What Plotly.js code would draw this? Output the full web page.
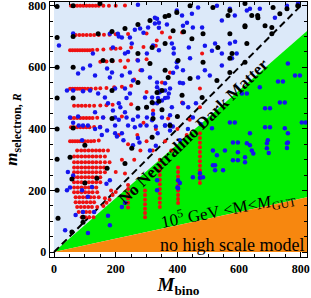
<!DOCTYPE html>
<html><head><meta charset="utf-8">
<script src="https://cdn.plot.ly/plotly-3.0.1.min.js"></script>
<style>html,body{margin:0;padding:0;background:#fff}#c{width:311px;height:298px}</style>
</head><body><div id="c"></div>
<script>
// region boundaries
const regionX = [0, 820];
const dmSlope = 0.875;      // upper edge of green band
const highSlope = 0.217;    // upper edge of orange band
const diagX = [0, 800];
const diagY = [0, 800];

// red points
const redX = [55,65,75,85,95,105,115,125,135,145,160,178,200,230,
 70,82,94,106,118,130,145,162,180,200,240,300,
 52,60,68,76,84,92,100,108,116,125,140,160,185,215,250,290,330,
 150,170,190,215,240,270,300,
 52,60,68,76,84,92,100,110,120,135,150,170,195,220,250,
 65,78,90,102,115,130,150,170,190,
 55,65,75,85,95,105,115,125,140,160,
 55,65,75,85,95,105,115,130,150,
 52,60,68,76,84,92,100,110,120,130,145,
 75,88,100,112,124,136,148,160,175,
 65,77,89,101,113,125,137,150,165,
 65,77,89,101,113,125,137,150,165,180,
 65,77,89,101,113,125,137,150,162,
 65,77,89,101,113,125,137,150,165,
 65,77,89,101,113,125,137,150,
 65,77,89,101,113,125,137,150,
 65,77,89,101,113,125,137,
 65,77,89,101,113,125,140,
 70,82,94,106,118,130,145,
 70,82,94,106,118,130,
 75,87,99,111,123,140,
 80,92,104,116,130,
 90,102,114,128,
 160,170,180,190,200,165,185,
 240,240,240,240,240,240,
 295,295,295,295,295,295,295,
 343,343,343,343,343,343,343,343,343,343,343,
 402,402,402,402,402,402,402,402,402,
 473,473,473,473,473,473,473,473,473,473,473,473,
 350,333,376,415,480,376,350,415,473,473,370,321,260,230,200,280,300,250,220,290,330,270,240,210,300,260,220,200,230,280,320,360,400,440,430,380];
const redY = [800,800,800,800,800,800,800,800,800,800,800,800,800,801,
 705,705,705,705,705,705,705,706,706,707,708,710,
 655,655,655,655,655,655,655,655,655,656,657,658,660,662,664,666,670,
 618,619,620,621,622,624,626,
 530,530,530,530,530,530,530,530,530,531,532,533,535,537,540,
 475,475,475,475,475,475,476,477,478,
 435,435,435,435,435,435,435,435,436,437,
 405,405,405,405,405,405,405,406,407,
 360,360,360,360,360,360,360,360,360,361,362,
 330,330,330,330,330,330,330,330,330,
 310,310,310,310,310,310,310,310,310,
 292,292,292,292,292,292,292,292,292,292,
 275,275,275,275,275,275,275,275,275,
 259,259,259,259,259,259,259,259,259,
 243,243,243,243,243,243,243,243,
 227,227,227,227,227,227,227,227,
 210,210,210,210,210,210,210,
 194,194,194,194,194,194,194,
 178,178,178,178,178,178,178,
 162,162,162,162,162,162,
 146,146,146,146,146,146,
 130,130,130,130,130,
 113,113,113,113,
 150,160,170,185,195,175,200,
 145,160,175,190,205,218,
 113,127,141,155,170,185,200,
 146,160,175,190,205,220,235,250,265,280,300,
 159,172,185,200,215,230,245,260,275,
 224,238,252,266,280,295,310,325,340,355,370,386,
 713,687,697,713,645,583,551,486,531,470,434,460,560,600,660,590,520,480,440,420,400,380,350,380,360,300,300,260,255,330,330,360,400,430,380,330];

// blue points
const blueX = [625,609,667,726,742,732,748,781,797,758,684,700,570,586,512,635,684,700,748,758,758,803,815,580,596,635,641,646,693,690,696,619,619,515,554,580,596,522,522,548,450,483,402,402,
 515,528,596,625,690,755,755,408,400,334,334,473,473,
 272,62,16,181,207,220,262,279,290,305,327,340,366,398,246,252,210,191,230,240,301,272,321,340,382,388,388,398,126,117,94,78,133,172,188,181,220,246,256,285,311,334,334,343,360,360,369,372,350,321,295,300,246,230,235,198,165,143,175,210,191,230,215,42,62,94,117,133,159,198,210,235,256,272,301,321,350,376,52,78,94,110,133,172,198,240,262,280,300,330,360,385,
 360,376,415,447,467,528,544,570,586,625,635,667,716,755,791,327,340,334,431,480,418,450,437,512,489,522,544,577,592,570,587,544,441,489,505,467,418,386,398,418,376,408,318,340,334,360,382,418,450,435,460,337,343,376,408,434,476,318,
 62,91,80,198,204,220,225,256,272,277,311,330,336,149,155,181,170,91,110,62,45,
 42,52,36,110,123,130,181,175,94,70,220,230];
const blueY = [515,515,535,554,554,486,486,573,573,612,467,467,421,421,402,386,405,405,402,386,356,421,421,356,356,347,330,320,363,337,322,308,292,330,330,298,298,282,266,266,243,243,207,233,
 282,314,324,353,353,353,338,224,210,201,233,256,241,
 803,710,671,709,709,697,722,726,712,729,742,728,739,784,697,677,700,664,645,650,645,622,671,655,677,662,645,616,645,606,596,580,573,596,583,567,573,583,557,590,567,551,535,525,548,525,502,515,492,483,502,470,515,531,500,531,502,515,483,483,460,454,470,525,525,522,525,454,437,437,430,437,430,440,437,448,437,444,437,440,411,411,400,395,411,411,405,411,411,408,411,408,411,414,
 768,774,794,800,752,790,768,784,790,790,761,800,807,761,745,758,745,729,735,729,664,654,670,677,645,629,645,677,683,606,629,590,573,567,548,582,600,590,531,550,502,518,483,500,470,483,437,470,483,500,520,395,363,400,415,428,420,363,
 411,386,375,386,363,347,370,356,330,345,386,405,380,233,222,201,180,249,260,201,210,
 71,62,211,130,87,118,130,120,146,160,211,200];

// black points
const blackX = [10,10,10,10,10,10,10,13,
 62,62,62,62,62,52,58,
 149,143,188,230,272,360,372,159,188,272,360,188,272,360,188,272,318,340,350,
 100,100,94,139,172,230,252,
 441,515,619,398,564,641,660,755,790,311,386,420,483,619,684,318,447,531,625,706,311,402,483,570,370,441,528,334,350,415,480,300,376,321,400,318,
 570,619,661,710,706,732,570,577,619,570,58,94];
const blackY = [797,697,600,500,400,301,201,110,
 800,700,600,500,403,308,237,
 807,709,716,726,739,765,768,622,622,645,677,525,551,590,434,467,486,490,462,
 347,224,113,240,272,288,337,
 800,794,807,778,768,768,768,790,800,752,719,715,709,735,735,664,693,664,677,709,612,622,616,629,567,564,557,518,525,509,502,470,411,434,440,373,
 784,732,761,794,729,774,709,645,616,583,65,97];

// text labels
const labelDM = "No Neutralino Dark Matter";
const labelMid = "10<sup>5</sup> GeV &lt;M&lt;<i>M</i><sub>GUT</sub>";
const labelLow = "no high scale model";
const xTitle = "<b><i>M</i></b><sub><b>bino</b></sub>";
const yTitle = "<b><i>m</i></b><sub><b>selectron, <i>R</i></b></sub>";
const tickVals = [0,200,400,600,800];
const tickText = ["0","200","400","600","800"];

const yTop = 820;
const traces = [
 {x:[regionX[0],regionX[0],regionX[1],regionX[1],regionX[0]], y:[0,yTop,yTop,regionX[1]*dmSlope,0],
  type:'scatter', mode:'none', fill:'toself', fillcolor:'#dce9f9', hoverinfo:'skip'},
 {x:[regionX[0],regionX[1],regionX[1],regionX[0]], y:[0,regionX[1]*dmSlope,regionX[1]*highSlope,0],
  type:'scatter', mode:'none', fill:'toself', fillcolor:'#00ee00', hoverinfo:'skip'},
 {x:[regionX[0],regionX[1],regionX[1],regionX[0]], y:[0,regionX[1]*highSlope,0,0],
  type:'scatter', mode:'none', fill:'toself', fillcolor:'#f7870f', hoverinfo:'skip'},
 {x:diagX, y:diagY, type:'scatter', mode:'lines', line:{color:'#000', width:2, dash:'7px,4px'}},
 {x:redX, y:redY, type:'scatter', mode:'markers', marker:{color:'#ee1111', size:4}},
 {x:blueX, y:blueY, type:'scatter', mode:'markers', marker:{color:'#1515ee', size:4.5}},
 {x:blackX, y:blackY, type:'scatter', mode:'markers', marker:{color:'#000', size:5}}
];

const axisCommon = {
 showgrid:false, zeroline:false, showline:true, linecolor:'#000', linewidth:1.3, mirror:'allticks',
 ticks:'inside', ticklen:5, tickcolor:'#000', tickwidth:1, tickvals:tickVals, ticktext:tickText,
 ticklabeloverflow:'allow',
 tickfont:{family:'Liberation Serif', size:12, color:'#000', weight:'bold'},
 minor:{dtick:50, ticks:'inside', ticklen:3, tickcolor:'#000', tickwidth:1}
};

const layout = {
 width:311, height:298, margin:{l:50, r:4, t:2, b:41},
 paper_bgcolor:'#fff', plot_bgcolor:'#fff', showlegend:false,
 font:{family:'Liberation Serif', color:'#000'},
 xaxis:Object.assign({}, axisCommon, {range:[-13,820],
   title:{text:xTitle, font:{family:'Liberation Serif', size:19, color:'#000'}, standoff:8}}),
 yaxis:Object.assign({}, axisCommon, {range:[-16,812],
   title:{text:yTitle, font:{family:'Liberation Serif', size:17, color:'#000'}, standoff:6}}),
 annotations:[
  {x:452, y:392, xref:'x', yref:'y', text:'<b>'+labelDM+'</b>', showarrow:false, textangle:-44,
   font:{family:'Liberation Serif', size:17, color:'#000'}},
  {x:564, y:139, xref:'x', yref:'y', text:labelMid, showarrow:false, textangle:-11,
   font:{family:'Liberation Serif', size:17, color:'#000'}},
  {x:577, y:24, xref:'x', yref:'y', text:labelLow, showarrow:false,
   font:{family:'Liberation Serif', size:18, color:'#000'}}
 ]
};

Plotly.newPlot('c', traces, layout, {staticPlot:true, displayModeBar:false});
</script></body></html>
